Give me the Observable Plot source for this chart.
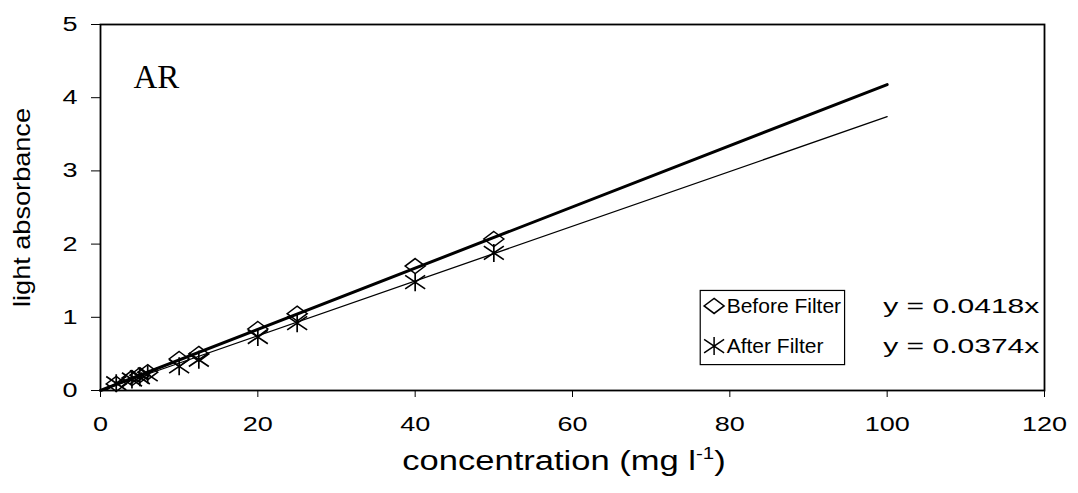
<!DOCTYPE html>
<html><head><meta charset="utf-8">
<script src="https://cdn.jsdelivr.net/npm/d3@7"></script>
<script src="https://cdn.jsdelivr.net/npm/@observablehq/plot@0.6"></script>
<style>
body{margin:0;background:#fff}
#chart svg{font-family:"Liberation Sans",Arial,sans-serif;overflow:visible}
</style>
</head><body><div id="chart"></div>
<script>
// ---- data ----
const concentration = [2, 4, 5, 6, 10, 12.5, 20, 25, 40, 50];
const beforeFilter  = [0.09, 0.17, 0.21, 0.25, 0.43, 0.50, 0.84, 1.05, 1.70, 2.07];
const afterFilter   = [0.10, 0.15, 0.18, 0.22, 0.33, 0.42, 0.73, 0.92, 1.48, 1.88];
const trendX = [0, 100];
const slopeBefore = 0.0418;
const slopeAfter = 0.0374;
const seriesNames = ["Before Filter", "After Filter"];
const equations = ["y = 0.0418x", "y = 0.0374x"];
const xTicks = [0, 20, 40, 60, 80, 100, 120];
const yTicks = [0, 1, 2, 3, 4, 5];
const panelLabel = "AR";
const xTitle = ["concentration (mg l", "-1", ")"];
const yTitle = "light absorbance";

const beforeRows = concentration.map((c, i) => ({x: c, y: beforeFilter[i]}));
const afterRows  = concentration.map((c, i) => ({x: c, y: afterFilter[i]}));
const beforeTrend = trendX.map(x => ({x, y: x * slopeBefore}));
const afterTrend  = trendX.map(x => ({x, y: x * slopeAfter}));

// custom symbols (Excel-like wide diamond and star)
const diamondSym = {draw(ctx) {
  const w = 10, h = 7.5;
  ctx.moveTo(0, -h); ctx.lineTo(w, 0); ctx.lineTo(0, h); ctx.lineTo(-w, 0); ctx.closePath();
}};
const starSym = {draw(ctx) {
  const w = 10, h = 9;
  ctx.moveTo(-w, -h * 0.75); ctx.lineTo(w, h * 0.75);
  ctx.moveTo(-w, h * 0.75); ctx.lineTo(w, -h * 0.75);
  ctx.moveTo(0, -h); ctx.lineTo(0, h);
}};

// legend rows (placed in data units inside the plot)
const legendRows = [
  {name: seriesNames[0], eq: equations[0], y: 1.155, sym: diamondSym},
  {name: seriesNames[1], eq: equations[1], y: 0.607, sym: starSym}
];

const plot = Plot.plot({
  width: 1078, height: 493,
  marginLeft: 100, marginRight: 34, marginTop: 24, marginBottom: 103,
  style: {fontSize: "20px", color: "black", background: "transparent"},
  x: {domain: [0, 120], ticks: xTicks, tickSize: 7, tickPadding: 19, label: null},
  y: {domain: [0, 5], ticks: yTicks, tickSize: 9, tickPadding: 14, label: null, tickFormat: d => String(d)},
  marks: [
    Plot.frame({stroke: "black", strokeWidth: 1.8}),
    Plot.line(afterTrend, {x: "x", y: "y", stroke: "black", strokeWidth: 1.3}),
    Plot.line(beforeTrend, {x: "x", y: "y", stroke: "black", strokeWidth: 3}),
    Plot.dot(beforeRows, {x: "x", y: "y", symbol: diamondSym, stroke: "black", fill: "none", strokeWidth: 1.5}),
    Plot.dot(afterRows, {x: "x", y: "y", symbol: starSym, stroke: "black", fill: "none", strokeWidth: 1.7}),
    Plot.rect([0], {x1: 76.3, x2: 94.65, y1: 0.347, y2: 1.36, stroke: "black", strokeWidth: 1.2, fill: "white"}),
    Plot.dot(legendRows, {x: 78.0, y: "y", symbol: "sym", stroke: "black", fill: "none", strokeWidth: 1.5}),
    Plot.text(legendRows, {x: 79.6, y: "y", text: "name", textAnchor: "start", fontSize: 21, fill: "black"}),
    Plot.text(legendRows, {x: 99.5, y: "y", text: "eq", textAnchor: "start", fontSize: 21, fill: "black"}),
    Plot.text([panelLabel], {x: 4.2, y: 4.28, text: d => d, textAnchor: "start", fontSize: 33, fontFamily: "Liberation Serif", fill: "black"}),
    Plot.text([yTitle], {frameAnchor: "left", dx: -78, rotate: -90, textAnchor: "middle", text: d => d, fontSize: 24, fill: "black"})
  ]
});
document.getElementById("chart").append(plot);

const svgNode = plot.tagName.toLowerCase() === "svg" ? plot : plot.querySelector("svg");
const svg = d3.select(svgNode);

// horizontal stretch of glyphs (the reference text is wider than the font)
function stretch(sel, k) {
  sel.each(function() {
    const L = this.getComputedTextLength();
    if (L > 0) {
      this.setAttribute("textLength", (L * k).toFixed(2));
      this.setAttribute("lengthAdjust", "spacingAndGlyphs");
    }
  });
}
const allText = svg.selectAll("text");
stretch(allText.filter(function() { const g = this.closest("g[aria-label]"); return g && /axis/.test(g.getAttribute("aria-label")); }), 1.35);
stretch(allText.filter(function() { return equations.includes(this.textContent); }), 1.43);
stretch(allText.filter(function() { return this.textContent === yTitle; }), 1.13);

// x-axis title with superscript
const t = svg.append("text")
  .attr("transform", "translate(564,470) scale(1.28,1)")
  .attr("text-anchor", "middle")
  .attr("font-size", 27).attr("fill", "black");
t.append("tspan").text(xTitle[0]);
t.append("tspan").attr("dy", -11).attr("font-size", 16).text(xTitle[1]);
t.append("tspan").attr("dy", 11).text(xTitle[2]);
</script>
</body></html>
